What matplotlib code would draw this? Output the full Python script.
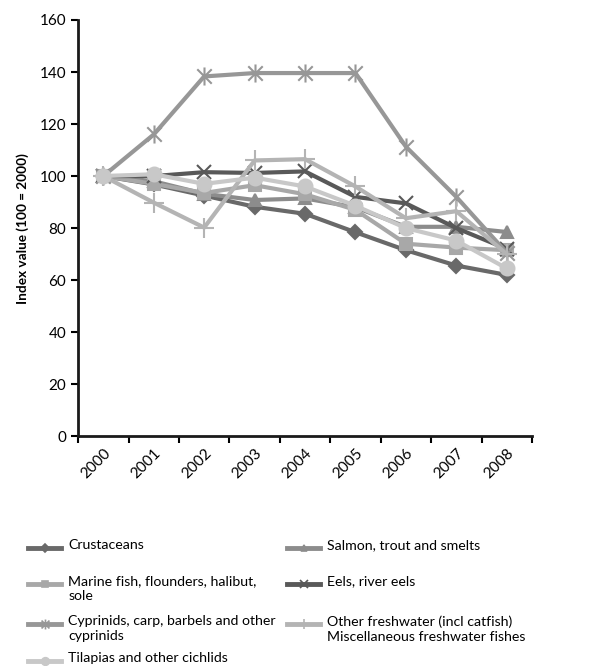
import matplotlib
matplotlib.use("Agg")
import matplotlib.pyplot as plt
from matplotlib.path import Path
from matplotlib.lines import Line2D

plt.rcParams['font.family'] = ['Lato', 'DejaVu Sans']

years = ['2000', '2001', '2002', '2003', '2004', '2005', '2006', '2007', '2008']

crustaceans = [100, 96.8, 92.5, 88.2, 85.5, 78.4, 71.5, 65.6, 62]
salmon = [100, 98, 93.2, 90.8, 91.4, 88, 80.5, 80.5, 78.5]
marine = [100, 97, 93.5, 96.5, 93, 87, 74, 72.5, 71.5]
eels = [100, 100, 101.5, 101.2, 101.8, 92, 89.5, 80, 72]
cyprinids = [100, 116, 138.3, 139.6, 139.6, 139.6, 111.3, 92, 70.5]
other_fw = [100, 89.8, 80.2, 106, 106.5, 96, 83.8, 86.5, 70]
tilapias = [100, 100.7, 97, 99.4, 96, 88.6, 80, 75.2, 64.5]

names = ['Crustaceans', 'Salmon, trout and smelts',
         'Marine fish, flounders, halibut,\nsole', 'Eels, river eels',
         'Cyprinids, carp, barbels and other\ncyprinids',
         'Other freshwater (incl catfish)\nMiscellaneous freshwater fishes',
         'Tilapias and other cichlids']

# excel style "star": an x with a vertical bar through it
star = Path([(-1, -1), (1, 1), (-1, 1), (1, -1), (0, -1.25), (0, 1.25)],
            [Path.MOVETO, Path.LINETO, Path.MOVETO, Path.LINETO, Path.MOVETO, Path.LINETO])

series = [
    (crustaceans, '#696969', 'D', 7),
    (salmon, '#8c8c8c', '^', 9),
    (marine, '#a8a8a8', 's', 9),
    (eels, '#595959', 'x', 10),
    (cyprinids, '#979797', star, 13),
    (other_fw, '#b4b4b4', '+', 14),
    (tilapias, '#c8c8c8', 'o', 10),
]

fig = plt.figure(figsize=(6.15, 6.66), dpi=100)
ax = fig.add_axes([0.127, 0.345, 0.738, 0.625])

x = list(range(len(years)))
for vals, col, mk, ms in series:
    ax.plot(x, vals, color=col, lw=3, marker=mk, markersize=ms,
            markeredgewidth=1.5, markeredgecolor=col, markerfacecolor=col)

ax.set_xlim(-0.5, len(years) - 0.5)
ax.set_ylim(0, 160)
ax.set_yticks(range(0, 161, 20))
ax.set_xticks([i - 0.5 for i in range(len(years) + 1)])
ax.set_xticklabels([])
ax.set_xticks(x, minor=True)
ax.set_xticklabels(years, minor=True, rotation=45, ha='right', va='top',
                   rotation_mode='anchor', fontsize=11)
ax.tick_params(axis='x', which='minor', length=0, pad=7)
ax.tick_params(axis='x', which='major', length=5, width=1.5, direction='out')
ax.tick_params(axis='y', length=5, width=1.5, direction='out', labelsize=11)
for s in ['top', 'right']:
    ax.spines[s].set_visible(False)
for s in ['left', 'bottom']:
    ax.spines[s].set_linewidth(2)
    ax.spines[s].set_color('#1a1a1a')
ax.set_ylabel('Index value (100 = 2000)', fontweight='bold', fontsize=9.8, labelpad=8)

# legend drawn by hand so rows line up like the original
cols_x = [0.046, 0.467]
rows_y = [1 - 548 / 666, 1 - 584 / 666, 1 - 624 / 666, 1 - 661 / 666]
for i, (vals, col, mk, ms) in enumerate(series):
    cx = cols_x[i % 2]
    cy = rows_y[i // 2]
    fig.add_artist(Line2D([cx, cx + 0.053], [cy, cy], transform=fig.transFigure,
                          color=col, lw=3.5))
    fig.add_artist(Line2D([cx + 0.0265], [cy], transform=fig.transFigure,
                          color=col, lw=0, marker=mk, markersize=ms * 0.55,
                          markeredgecolor=col, markerfacecolor=col, markeredgewidth=1.2))
    fig.text(cx + 0.065, cy + 0.013, names[i], fontsize=10.2, va='top', ha='left',
             linespacing=1.3)

fig.savefig('out.png', dpi=100)
